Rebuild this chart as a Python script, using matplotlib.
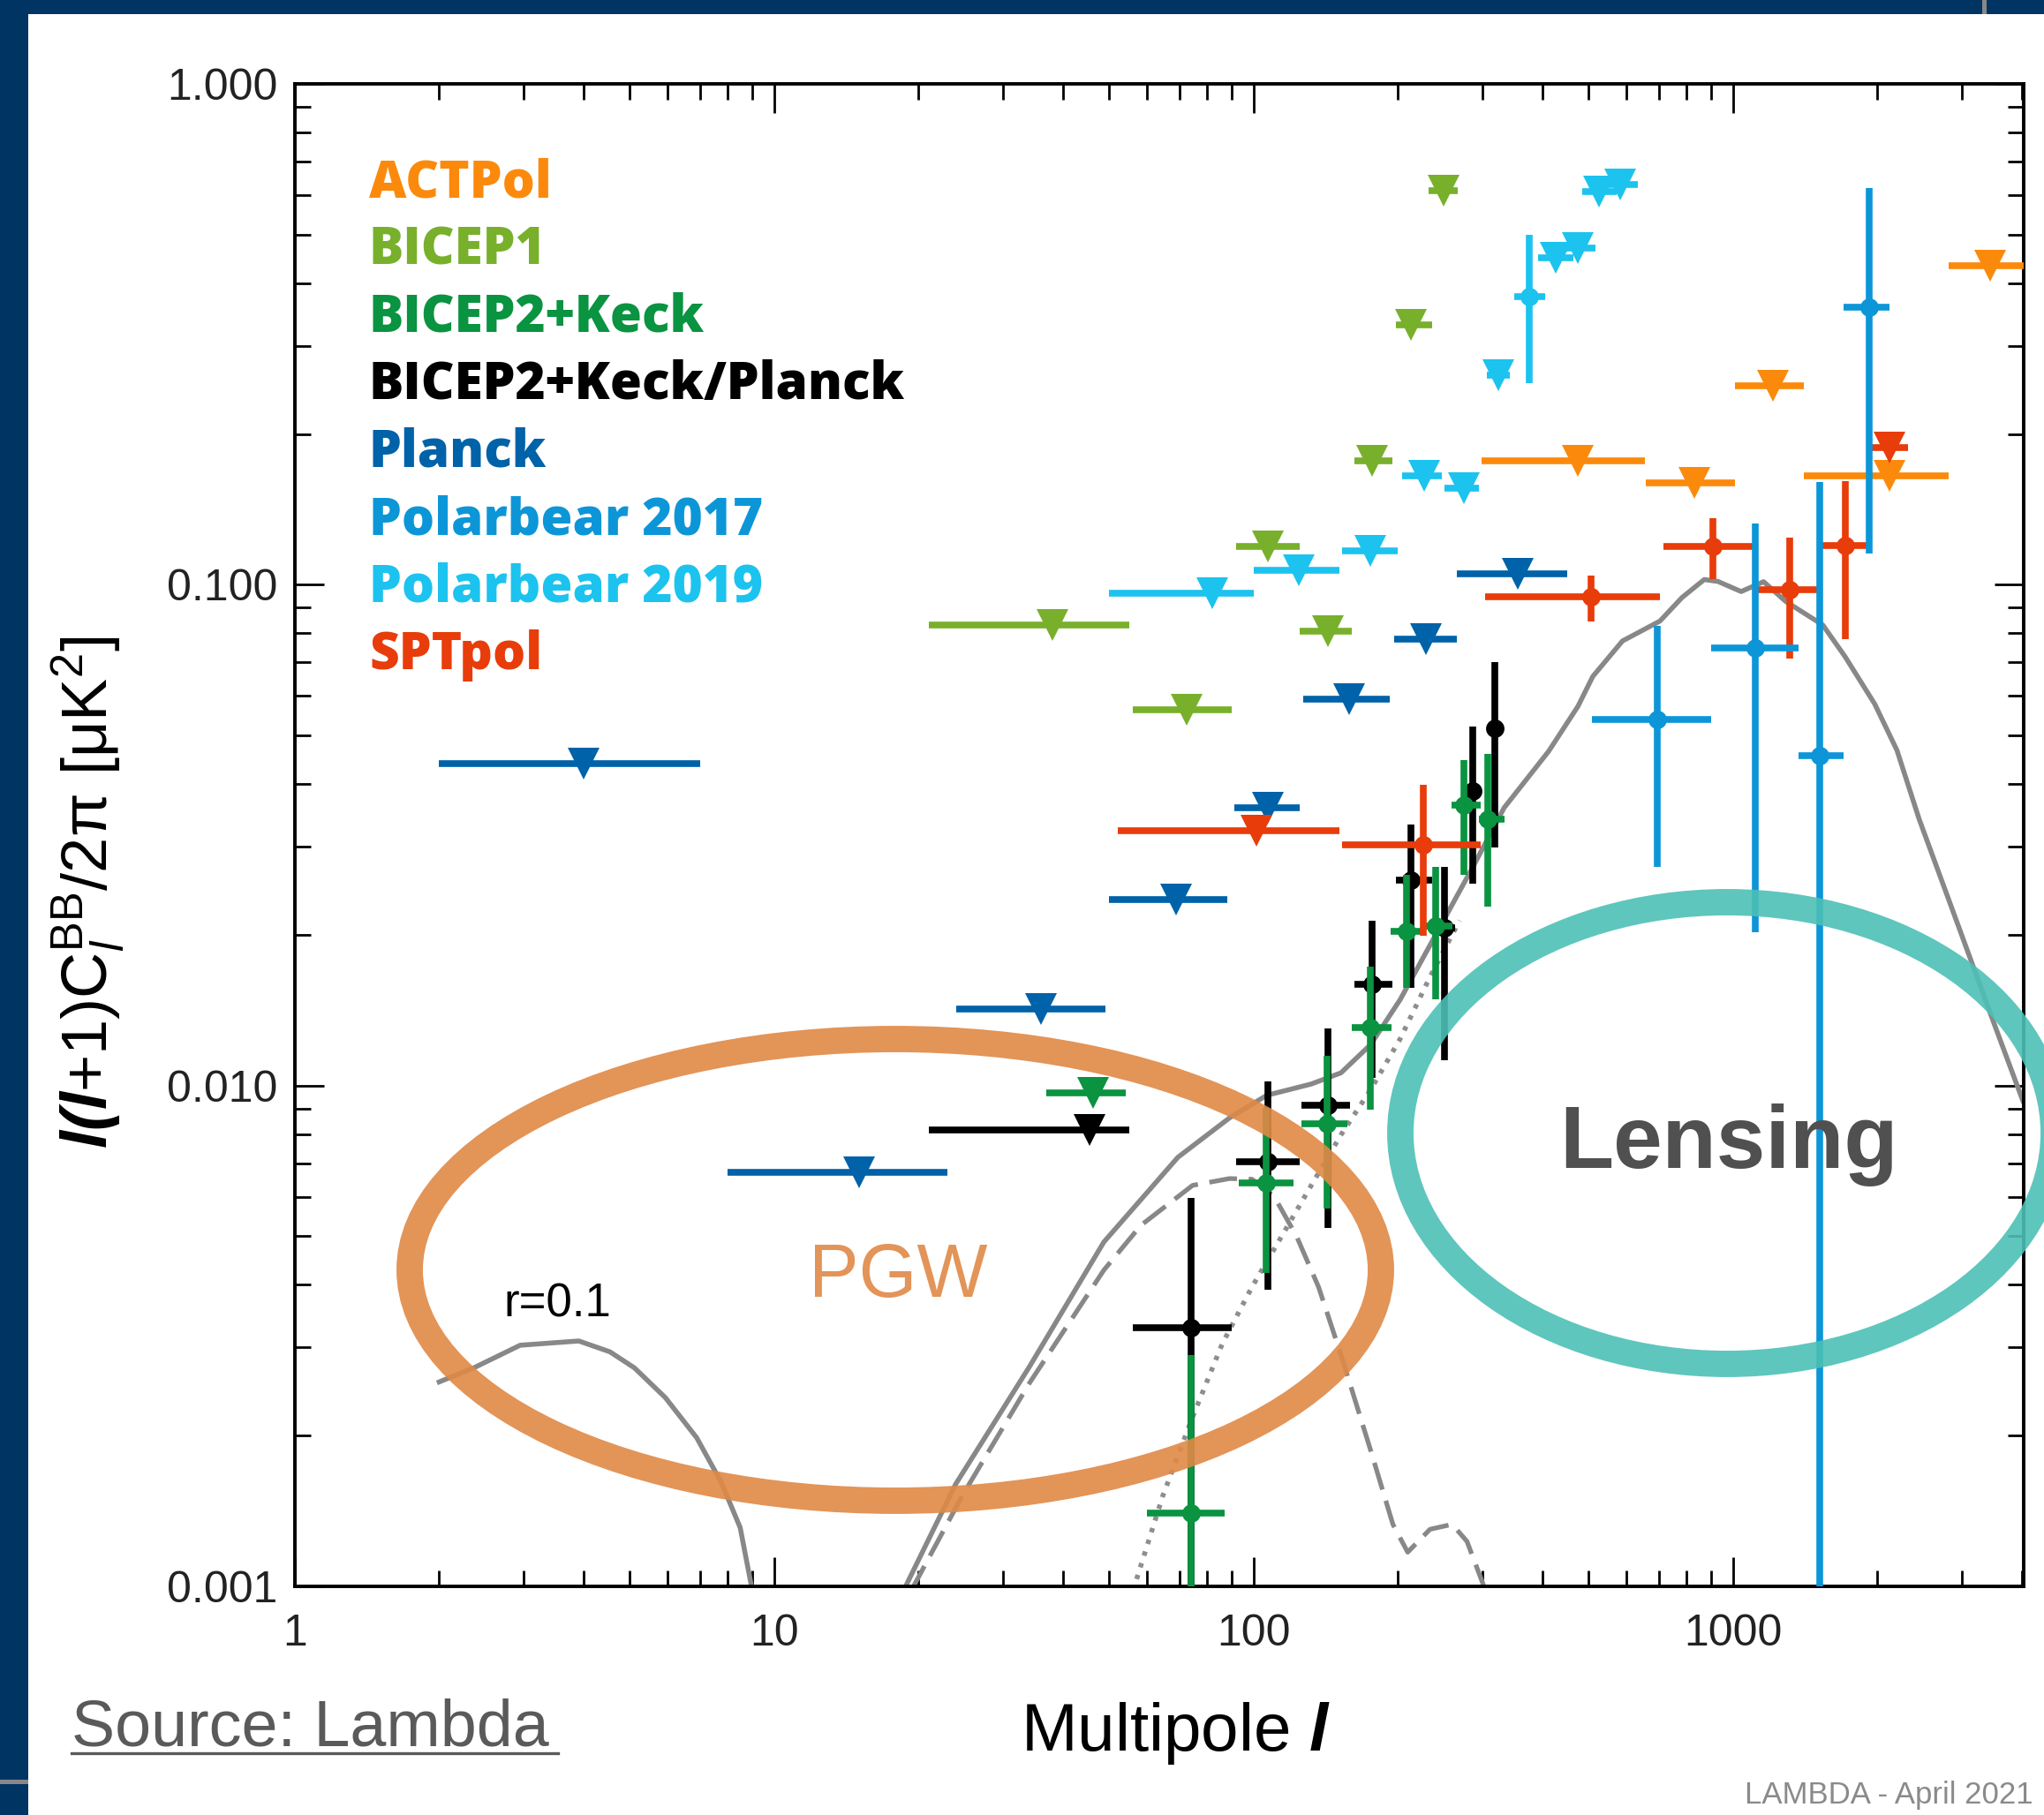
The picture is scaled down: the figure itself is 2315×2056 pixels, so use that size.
import matplotlib
matplotlib.use('Agg')
import numpy as np
import matplotlib.pyplot as plt
from matplotlib import font_manager
from matplotlib.patches import Ellipse, Rectangle
from matplotlib.lines import Line2D
from matplotlib.ticker import LogLocator, FuncFormatter, NullFormatter

names = {f.name for f in font_manager.fontManager.ttflist}
narrow = 'Liberation Sans Narrow' if 'Liberation Sans Narrow' in names else 'Liberation Sans'

plt.rcParams['font.family'] = 'Liberation Sans'
plt.rcParams['mathtext.fontset'] = 'custom'
plt.rcParams['mathtext.rm'] = 'Liberation Sans'
plt.rcParams['mathtext.it'] = 'Liberation Sans:italic'
plt.rcParams['mathtext.bf'] = 'Liberation Sans:italic:bold'

# ---- data read off the LAMBDA BB compilation ----
# upper limits: ell, bin low, bin high, value
planck_l = [4, 15, 36, 69, 107, 158, 229, 356]
planck_lo = [2, 8, 24, 50, 91, 127, 196, 265]
planck_hi = [7, 23, 49, 88, 125, 192, 265, 451]
planck_v = [0.044, 0.0067, 0.0142, 0.0235, 0.0358, 0.059, 0.078, 0.105]

pb19_l = [82, 124, 175, 227, 275, 324, 427, 475, 526, 581]
pb19_lo = [50, 100, 153, 204, 250, 306, 392, 437, 484, 535]
pb19_hi = [100, 151, 200, 247, 295, 342, 465, 517, 572, 632]
pb19_v = [0.096, 0.107, 0.117, 0.165, 0.156, 0.262, 0.45, 0.47, 0.61, 0.63]

act_l = [475, 831, 1213, 2121, 3432]
act_lo = [299, 659, 1011, 1408, 2817]
act_hi = [655, 1011, 1408, 2817, 4040]
act_v = [0.177, 0.160, 0.250, 0.165, 0.433]

b1_l = [38, 72.5, 107, 143, 177, 213, 249]
b1_lo = [21, 56, 92, 125, 162, 198, 232]
b1_hi = [55, 90, 125, 160, 195, 236, 266]
b1_v = [0.083, 0.0562, 0.119, 0.0806, 0.177, 0.330, 0.611]

spt_ul_l = [101.5, 2121]
spt_ul_lo = [52, 1904]
spt_ul_hi = [151, 2317]
spt_ul_v = [0.0323, 0.188]

bk_ul_l = [46.3]
bk_ul_lo = [37]
bk_ul_hi = [54]
bk_ul_v = [0.00967]

bkp_ul_l = [45.5]
bkp_ul_lo = [21]
bkp_ul_hi = [55]
bkp_ul_v = [0.00814]

# detections: ell, bin low, bin high, value, value low, value high
bk_l = [74, 106, 142, 175, 208, 240, 274, 308]
bk_lo = [60, 93, 126, 160, 193, 227, 259, 295]
bk_hi = [87, 121, 157, 194, 225, 260, 298, 333]
bk_v = [0.0014, 0.0064, 0.0084, 0.01305, 0.0203, 0.0208, 0.0363, 0.034]
bk_vlo = [0.0005, 0.00423, 0.00569, 0.00896, 0.01564, 0.01485, 0.0263, 0.0228]
bk_vhi = [0.0029, 0.00903, 0.01146, 0.01727, 0.0263, 0.0273, 0.0447, 0.0459]

bkp_l = [74, 107, 143, 177, 213, 250, 286, 319]
bkp_lo = [56, 92, 126, 162, 198, 233, 276, 310]
bkp_hi = [90, 125, 159, 195, 236, 263, 296, 328]
bkp_v = [0.00329, 0.00704, 0.00912, 0.01593, 0.02573, 0.02065, 0.0387, 0.0516]
bkp_vlo = [0.0005, 0.00391, 0.0052, 0.01034, 0.01564, 0.01123, 0.02526, 0.0299]
bkp_vhi = [0.00597, 0.0102, 0.01298, 0.02135, 0.0332, 0.0273, 0.0522, 0.070]

spt_l = [226, 505, 909, 1312, 1712]
spt_lo = [153, 304, 716, 1117, 1524]
spt_hi = [298, 705, 1097, 1512, 1904]
spt_v = [0.0302, 0.0947, 0.119, 0.0978, 0.1199]
spt_vlo = [0.0199, 0.0846, 0.1024, 0.0712, 0.078]
spt_vhi = [0.0399, 0.1044, 0.1356, 0.124, 0.161]

pb17_l = [695, 1113, 1514, 1920]
pb17_lo = [508, 899, 1369, 1704]
pb17_hi = [899, 1369, 1704, 2123]
pb17_v = [0.0538, 0.0748, 0.0455, 0.358]
pb17_vlo = [0.0273, 0.0202, 0.0005, 0.1152]
pb17_vhi = [0.0829, 0.1323, 0.1603, 0.619]

pb19d_l = [376]
pb19d_lo = [349]
pb19d_hi = [405]
pb19d_v = [0.376]
pb19d_vlo = [0.253]
pb19d_vhi = [0.50]

# theory curves (r=0.1)
reion_l = [2.0, 2.36, 2.95, 3.91, 4.54, 5.11, 5.93, 6.89, 7.76, 8.49, 9.0]
reion_v = [0.00256, 0.00273, 0.00303, 0.00309, 0.00294, 0.00273, 0.00238, 0.00198, 0.00161, 0.00131, 0.00098]
total_l = [18.6, 23.9, 34.1, 48.7, 69.5, 89.1, 106.5, 131.9, 152.1, 175.4, 202.2, 241.7, 288.7, 333,
           412.5, 475, 510, 588, 704, 783, 871, 930, 1040, 1158, 1288, 1539, 1712, 1975, 2198, 2446,
           2924, 3494, 4024]
total_v = [0.00098, 0.0016, 0.00275, 0.00487, 0.00719, 0.00862, 0.00956, 0.01007, 0.0106, 0.01207,
           0.01485, 0.02028, 0.02767, 0.03585, 0.0465, 0.0572, 0.0656, 0.0772, 0.0846, 0.0943, 0.1024,
           0.1015, 0.0969, 0.1014, 0.0926, 0.0831, 0.0719, 0.0578, 0.0467, 0.034, 0.02135, 0.0134, 0.00932]
tensor_l = [19.3, 24.7, 34.1, 48.7, 58.2, 74.6, 89.1, 99.2, 110.4, 122.9, 136.6, 152.1, 175.4, 195.2,
            209.6, 233.3, 259.5, 278.6, 304.7]
tensor_v = [0.00098, 0.00152, 0.00255, 0.00428, 0.00526, 0.00632, 0.00652, 0.0065, 0.006, 0.005,
            0.00396, 0.0029, 0.00187, 0.00133, 0.00117, 0.0013, 0.00133, 0.00123, 0.00098]
lens_l = [56.0, 64.7, 74.6, 86.0, 99.2, 114.4, 131.9, 152.1, 175.4, 202.2, 233.3, 268.9]
lens_v = [0.00098, 0.00152, 0.00218, 0.00305, 0.00396, 0.005, 0.00632, 0.00797, 0.00981, 0.0124,
          0.01648, 0.02135]

legend_names = ['ACTPol', 'BICEP1', 'BICEP2+Keck', 'BICEP2+Keck/Planck', 'Planck',
                'Polarbear 2017', 'Polarbear 2019', 'SPTpol']
legend_colors = ['#fb8a0c', '#78b02c', '#0a9340', '#000000', '#0062a8',
                 '#0c96d8', '#1cc3ee', '#e83c0a']
col = dict(zip(legend_names, legend_colors))

W, H = 2315, 2056
fig = plt.figure(figsize=(W / 100, H / 100), dpi=100)
ax = fig.add_axes([334 / W, 1 - 1797 / H, 1958 / W, 1702 / H])
ax.set_xscale('log')
ax.set_yscale('log')


def upper(l, lo, hi, v, c, z=3):
    l = np.array(l, float)
    ax.errorbar(l, v, xerr=[l - np.array(lo), np.array(hi) - l], fmt='v', ms=26, mew=0,
                color=c, elinewidth=5.5, capsize=0, zorder=z)


def detect(l, lo, hi, v, vlo, vhi, c, z=4):
    l = np.array(l, float)
    v = np.array(v, float)
    ax.errorbar(l, v, xerr=[l - np.array(lo), np.array(hi) - l],
                yerr=[v - np.array(vlo), np.array(vhi) - v], fmt='o', ms=15, mew=0,
                color=c, elinewidth=5.5, capsize=0, zorder=z)


# theory
gray = '#888888'
ax.plot(reion_l, reion_v, color=gray, lw=4, zorder=2)
ax.plot(total_l, total_v, color=gray, lw=4, zorder=2)
ax.plot(tensor_l, tensor_v, color=gray, lw=3.8, ls=(0, (6, 2.5)), zorder=2)
ax.plot(lens_l, lens_v, color='#8e8e8e', lw=4, ls=(0, (0.9, 1.6)), zorder=2)

upper(planck_l, planck_lo, planck_hi, planck_v, col['Planck'])
upper(b1_l, b1_lo, b1_hi, b1_v, col['BICEP1'])
upper(pb19_l, pb19_lo, pb19_hi, pb19_v, col['Polarbear 2019'])
upper(act_l, act_lo, act_hi, act_v, col['ACTPol'])
upper(spt_ul_l, spt_ul_lo, spt_ul_hi, spt_ul_v, col['SPTpol'], z=4)
upper(bkp_ul_l, bkp_ul_lo, bkp_ul_hi, bkp_ul_v, col['BICEP2+Keck/Planck'])
upper(bk_ul_l, bk_ul_lo, bk_ul_hi, bk_ul_v, col['BICEP2+Keck'])

detect(bkp_l, bkp_lo, bkp_hi, bkp_v, bkp_vlo, bkp_vhi, col['BICEP2+Keck/Planck'])
detect(bk_l, bk_lo, bk_hi, bk_v, bk_vlo, bk_vhi, col['BICEP2+Keck'], z=5)
detect(spt_l, spt_lo, spt_hi, spt_v, spt_vlo, spt_vhi, col['SPTpol'], z=5)
detect(pb17_l, pb17_lo, pb17_hi, pb17_v, pb17_vlo, pb17_vhi, col['Polarbear 2017'], z=6)
detect(pb19d_l, pb19d_lo, pb19d_hi, pb19d_v, pb19d_vlo, pb19d_vhi, col['Polarbear 2019'], z=6)

ax.set_xlim(1, 4040)
ax.set_ylim(0.001, 1.0)

# axes styling
for s in ax.spines.values():
    s.set_linewidth(2.8)
ax.xaxis.set_major_locator(LogLocator(base=10))
ax.yaxis.set_major_locator(LogLocator(base=10))
ax.xaxis.set_minor_locator(LogLocator(base=10, subs=np.arange(2, 10)))
ax.yaxis.set_minor_locator(LogLocator(base=10, subs=np.arange(2, 10)))
ax.xaxis.set_major_formatter(FuncFormatter(lambda v, p: '%d' % round(v)))
ax.yaxis.set_major_formatter(FuncFormatter(lambda v, p: '%.3f' % v))
ax.xaxis.set_minor_formatter(NullFormatter())
ax.yaxis.set_minor_formatter(NullFormatter())
ax.tick_params(which='both', direction='in', top=True, right=True, width=2, color='black')
ax.tick_params(which='major', length=24)
ax.tick_params(which='minor', length=13)
ax.tick_params(axis='x', which='major', labelsize=36, pad=22, labelcolor='#222222')
ax.tick_params(axis='y', which='major', labelsize=36, pad=14, labelcolor='#222222')

# axis labels
fig.text(100 / W, 1 - 1011 / H, r'$\mathbf{l(l}$+1)$\mathrm{C}_{l}^{\mathrm{BB}}$/2π [μK$^{2}$]',
         rotation=90, ha='center', va='center', fontsize=52, color='black')
fig.text(1332 / W, 1 - 1983 / H, r'Multipole $\mathbf{l}$', ha='center', va='baseline',
         fontsize=55, color='black')

# legend as coloured words
for i, (name, c) in enumerate(zip(legend_names, legend_colors)):
    fig.text(418 / W, 1 - (223 + 76.4 * i) / H, name, color=c, fontsize=42,
             fontfamily='Open Sans', fontweight='heavy', va='baseline', ha='left')

fig.text(570 / W, 1 - 1492 / H, 'r=0.1', fontsize=38, color='black', va='baseline')

# annotations
fig.text(1017 / W, 1 - 1469 / H, 'PGW', fontsize=61, color='#e39458', ha='center', va='baseline')
fig.text(1958 / W, 1 - 1323 / H, 'Lensing', fontsize=72, color='#505050', fontweight='bold',
         ha='center', va='baseline', zorder=10)
fig.add_artist(Ellipse((1014 / W, 1 - 1438.5 / H), 1100 / W, 523 / H, transform=fig.transFigure,
                       fill=False, edgecolor='#e08845', lw=21.5, alpha=0.9, zorder=8))
fig.add_artist(Ellipse((1956 / W, 1 - 1283.5 / H), 740 / W, 523 / H, transform=fig.transFigure,
                       fill=False, edgecolor='#4cc0b6', lw=21.5, alpha=0.9, zorder=8))

# source / credit
fig.text(81 / W, 1 - 1978 / H, 'Source: Lambda', fontsize=53, color='#5a5a5a', va='baseline')
fig.add_artist(Line2D([81 / W, 632 / W], [1 - 1986 / H] * 2, transform=fig.transFigure,
                      lw=2.4, color='#5a5a5a'))
fig.text(2303 / W, 1 - 2043 / H, 'LAMBDA - April 2021', fontsize=31 if narrow != 'Liberation Sans' else 25,
         fontfamily=narrow, color='#8a8a8a', ha='right', va='baseline')

# slide frame
navy = '#003463'
fig.add_artist(Rectangle((0, 1 - 16 / H), 1, 16 / H, transform=fig.transFigure,
                         facecolor=navy, edgecolor='none', zorder=20))
fig.add_artist(Rectangle((0, 0), 32 / W, 1, transform=fig.transFigure,
                         facecolor=navy, edgecolor='none', zorder=20))
fig.add_artist(Rectangle((2245 / W, 1 - 16 / H), 5 / W, 16 / H, transform=fig.transFigure,
                         facecolor='#888888', edgecolor='none', zorder=21))
fig.add_artist(Rectangle((0, 1 - 2021 / H), 32 / W, 5 / H, transform=fig.transFigure,
                         facecolor='#888888', edgecolor='none', zorder=21))

fig.savefig('out.png', dpi=100)
